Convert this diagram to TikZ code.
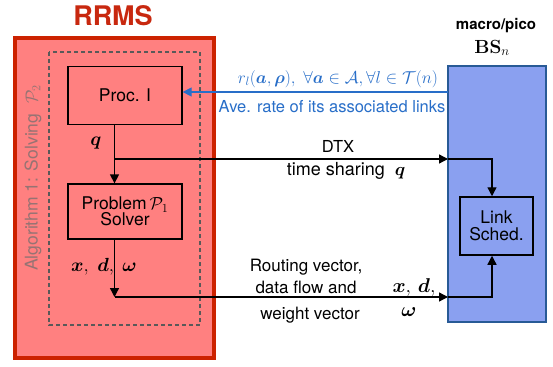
\RequirePackage{fix-cm}
\documentclass[tikz,border=0pt]{standalone}
\usepackage[no-math]{fontspec}
\setmainfont{TeX Gyre Heros}
\usepackage{amsmath,amssymb,bm}
\usetikzlibrary{arrows.meta}
\definecolor{rrmsfill}{RGB}{255,128,128}
\definecolor{rrmsedge}{RGB}{204,34,0}
\definecolor{rrmstitle}{RGB}{200,40,15}
\definecolor{bsfill}{RGB}{138,160,240}
\definecolor{bsedge}{RGB}{40,90,150}
\definecolor{ratecol}{RGB}{40,110,200}
\definecolor{algcol}{RGB}{150,115,115}
\tikzset{
  procbox/.style={draw=black, line width=1.3pt, minimum width=114pt, align=center, font=\fontsize{17.5}{19}\selectfont},
  flow/.style={draw=black, line width=1.3pt, -{Triangle[length=9pt,width=9pt]}},
  rate/.style={draw=ratecol, line width=1.3pt, -{Triangle[length=9pt,width=9pt]}},
  lbl/.style={font=\fontsize{16.5}{18}\selectfont, inner sep=0pt},
  mlbl/.style={font=\fontsize{19}{21}\selectfont, inner sep=0pt},
}
\begin{document}
\begin{tikzpicture}[x=1pt,y=-1pt]
\useasboundingbox (0,0) rectangle (553,366);
% RRMS server
\node[font=\fontsize{27}{30}\selectfont\bfseries, text=rrmstitle] (rrms) at (113,16) {RRMS};
\draw[fill=rrmsfill, draw=rrmsedge, line width=3.5pt] (15,38) rectangle (214,358);
\draw[draw=black!65, line width=1.3pt, dash pattern=on 4pt off 3pt] (49,52) rectangle (200,325);
\node[rotate=90, text=algcol, font=\fontsize{17.5}{20}\selectfont, inner sep=0pt] (alg) at (33,178) {Algorithm 1: Solving \ $\mathcal{P}_2$};
\node[procbox, minimum height=58pt] (proc) at (125,95.5) {Proc. I};
\node[procbox, minimum height=55pt, inner sep=1pt] (solver) at (125,211.5) {Problem\,$\mathcal{P}_1$\\[-3pt]Solver};
% base station
\node[font=\fontsize{15}{17}\selectfont\bfseries] (macro) at (496,26) {macro/pico};
\node[font=\fontsize{19}{21}\selectfont] (bsn) at (492,48) {$\mathbf{BS}_n$};
\draw[fill=bsfill, draw=bsedge, line width=2pt] (448,66) rectangle (546,322);
\node[draw=black, line width=1.5pt, minimum width=73pt, minimum height=58pt, align=center, font=\fontsize{17.5}{19}\selectfont, inner sep=1pt] (sched) at (496.5,226) {Link\\[-2pt]Sched.};
% junction points
\coordinate (qsplit) at (114.5,159);
\coordinate (dtxin) at (448,159);
\coordinate (dtxturn) at (492,159);
\coordinate (xdend) at (114.5,297);
\coordinate (xdin) at (448,297);
\coordinate (xdturn) at (492,297);
\coordinate (ratein) at (448,92);
% connectors
\draw[rate] (ratein) -- (proc.east |- ratein);
\draw[flow] (proc.south -| qsplit) -- (solver.north -| qsplit);
\draw[flow] (qsplit) -- (dtxin);
\draw[flow] (dtxin) -- (dtxturn) -- (sched.north -| dtxturn);
\draw[flow] (solver.south -| xdend) -- (xdend);
\draw[flow] (xdend) -- (xdin);
\draw[flow] (xdin) -- (xdturn) -- (sched.south -| xdturn);
% labels
\node[lbl, text=ratecol, font=\fontsize{17.2}{19}\selectfont] (ratemath) at (338,79) {$r_l(\bm{a},\bm{\rho}),\ \forall \bm{a}\in\mathcal{A},\forall l\in\mathcal{T}(n)$};
\node[lbl, text=ratecol] (ratetxt) at (332,107) {Ave. rate of its associated links};
\node[lbl] (dtx) at (338,146) {DTX};
\node[lbl, font=\fontsize{18}{20}\selectfont] (ts) at (346,171) {time sharing \ $\bm{q}$};
\node[mlbl] (qlbl) at (96,143) {$\bm{q}$};
\node[mlbl] (xdw) at (104,267) {$\bm{x},\;\bm{d},\;\bm{\omega}$};
\node[lbl, font=\fontsize{17}{19}\selectfont] (rv1) at (306,267) {Routing vector,};
\node[lbl, font=\fontsize{17}{19}\selectfont] (rv2) at (306,287) {data flow and};
\node[lbl, font=\fontsize{17}{19}\selectfont] (rv3) at (310,315) {weight vector};
\node[mlbl, font=\fontsize{20}{22}\selectfont] (xd2) at (414,287) {$\bm{x},\,\bm{d},$};
\node[mlbl, font=\fontsize{20}{22}\selectfont] (w2) at (409,312) {$\bm{\omega}$};
\end{tikzpicture}
\end{document}
